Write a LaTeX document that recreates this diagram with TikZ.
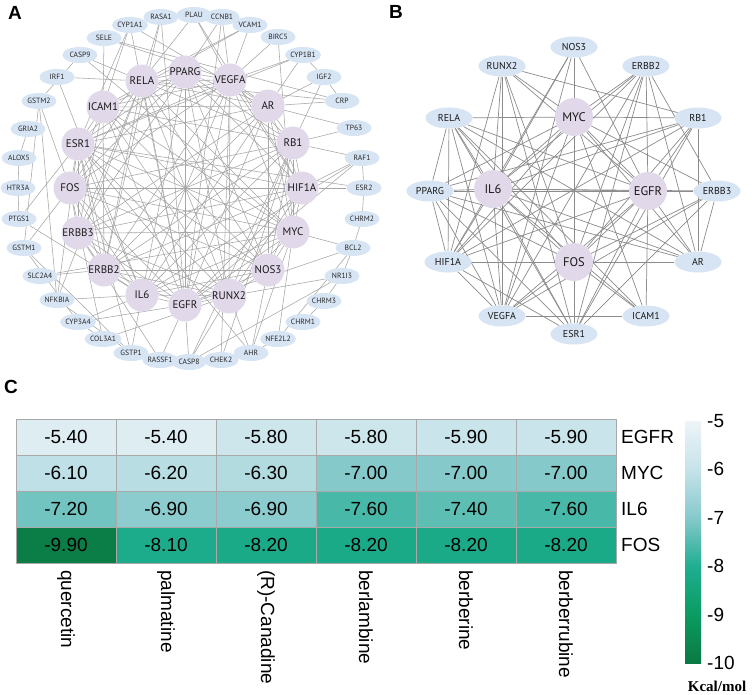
\documentclass[tikz,border=0pt]{standalone}
\usepackage{fontspec}
\setmainfont{Liberation Sans}
\newfontfamily\netfont{PT Sans}
\newfontfamily\serifbf{Liberation Serif}
\usetikzlibrary{shapes.geometric,backgrounds}
\definecolor{sblue}{HTML}{D6E4F4}
\definecolor{bigc}{HTML}{E1D9EA}
\definecolor{edgeA}{HTML}{A6A6A6}
\definecolor{edgeB}{HTML}{8C8C8C}
\definecolor{cellline}{HTML}{A9A9A9}
\definecolor{c5}{HTML}{EEF4F8}
\definecolor{c6}{HTML}{C5E3E9}
\definecolor{c7}{HTML}{86C9CB}
\definecolor{c8}{HTML}{1FAE90}
\definecolor{c9}{HTML}{0A9C62}
\definecolor{c10}{HTML}{0B7943}
\newcommand\setheat[1]{%
  \pgfmathsetmacro\hv{#1}%
  \pgfmathtruncatemacro\hs{floor(\hv)}%
  \pgfmathtruncatemacro\hp{round((\hv-\hs)*100)}%
  \pgfmathtruncatemacro\hn{\hs+1}%
  \colorlet{heat}{c\hn!\hp!c\hs}}
\tikzset{
  asmall/.style={ellipse,fill=sblue,minimum width=35pt,minimum height=16pt,inner sep=0pt,font=\netfont\fontsize{7.6}{8}\selectfont,text=black!85},
  abig/.style={circle,fill=bigc,minimum size=33pt,inner sep=0pt,font=\netfont\fontsize{11}{12}\selectfont,text=black!90},
  bsmall/.style={ellipse,fill=sblue,minimum width=47pt,minimum height=21pt,inner sep=0pt,font=\netfont\fontsize{10}{11}\selectfont,text=black!90},
  bbig/.style={circle,fill=bigc,minimum size=38pt,inner sep=0pt,font=\netfont\fontsize{12.5}{14}\selectfont,text=black!90},
  aedge/.style={draw=edgeA,line width=0.55pt},
  bedge/.style={draw=edgeB,line width=0.7pt},
  panel/.style={font=\bfseries\fontsize{19}{22}\selectfont},
  cellbox/.style={draw=cellline,line width=1pt,minimum width=100pt,minimum height=36pt,inner sep=0pt,font=\fontsize{19}{22}\selectfont},
  biglab/.style={font=\fontsize{19}{22}\selectfont,inner sep=0pt},
}
\begin{document}
\begin{tikzpicture}[x=1pt,y=-1pt]
\useasboundingbox (0,0) rectangle (754,695);
\begin{pgfonlayer}{background}
\fill[white] (0,0) rectangle (754,695);
\end{pgfonlayer}

% ---------------- Panel A ----------------
\node[panel] (pA) at (15,13) {A};
\node[abig] (a1) at (142,81) {RELA};
\node[abig] (a2) at (185,72) {PPARG};
\node[abig] (a3) at (230,80) {VEGFA};
\node[abig] (a4) at (268,106) {AR};
\node[abig] (a5) at (293,143) {RB1};
\node[abig] (a6) at (302,188) {HIF1A};
\node[abig] (a7) at (293,232) {MYC};
\node[abig] (a8) at (268,270) {NOS3};
\node[abig] (a9) at (229,296) {RUNX2};
\node[abig] (a10) at (185,305) {EGFR};
\node[abig] (a11) at (142,295) {IL6};
\node[abig] (a12) at (104,270) {ERBB2};
\node[abig] (a13) at (78,233) {ERBB3};
\node[abig] (a14) at (70,188) {FOS};
\node[abig] (a15) at (78,144) {ESR1};
\node[abig] (a16) at (103,107) {ICAM1};

\node[asmall] (aPLAU) at (194,15) {PLAU};
\node[asmall] (aRASA1) at (161,17) {RASA1};
\node[asmall] (aCYP1A1) at (130,25) {CYP1A1};
\node[asmall] (aSELE) at (104,38) {SELE};
\node[asmall] (aCASP9) at (80,55) {CASP9};
\node[asmall] (aIRF1) at (57,77) {IRF1};
\node[asmall] (aGSTM2) at (39,101) {GSTM2};
\node[asmall] (aGRIA2) at (28,129) {GRIA2};
\node[asmall] (aALOX5) at (19,158) {ALOX5};
\node[asmall] (aHTR3A) at (18,188) {HTR3A};
\node[asmall] (aPTGS1) at (19,219) {PTGS1};
\node[asmall] (aGSTM1) at (24,248) {GSTM1};
\node[asmall] (aSLC2A4) at (40,276) {SLC2A4};
\node[asmall] (aNFKBIA) at (57,300) {NFKBIA};
\node[asmall] (aCYP3A4) at (78,322) {CYP3A4};
\node[asmall] (aCOL3A1) at (103,339) {COL3A1};
\node[asmall] (aGSTP1) at (131,353) {GSTP1};
\node[asmall] (aRASSF1) at (160,360) {RASSF1};
\node[asmall] (aCASP8) at (189,362) {CASP8};
\node[asmall] (aCHEK2) at (221,360) {CHEK2};
\node[asmall] (aAHR) at (251,353) {AHR};
\node[asmall] (aNFE2L2) at (278,339) {NFE2L2};
\node[asmall] (aCHRM1) at (303,322) {CHRM1};
\node[asmall] (aCHRM3) at (324,301) {CHRM3};
\node[asmall] (aNR1I3) at (342,276) {NR1I3};
\node[asmall] (aBCL2) at (353,248) {BCL2};
\node[asmall] (aCHRM2) at (362,219) {CHRM2};
\node[asmall] (aESR2) at (364,188) {ESR2};
\node[asmall] (aRAF1) at (362,158) {RAF1};
\node[asmall] (aTP63) at (354,128) {TP63};
\node[asmall] (aCRP) at (342,101) {CRP};
\node[asmall] (aIGF2) at (324,77) {IGF2};
\node[asmall] (aCYP1B1) at (303,55) {CYP1B1};
\node[asmall] (aBIRC5) at (278,37) {BIRC5};
\node[asmall] (aVCAM1) at (250,25) {VCAM1};
\node[asmall] (aCCNB1) at (222,17) {CCNB1};

\begin{pgfonlayer}{background}
\foreach \i in {1,...,15}{%
  \pgfmathtruncatemacro\ii{\i+1}%
  \foreach \j in {\ii,...,16}{%
    \pgfmathtruncatemacro\kk{mod(\i*7+\j*3,5)}%
    \ifnum\kk>0 \draw[aedge] (a\i)--(a\j);\fi}}
\foreach \p/\q in {aPLAU/a1,aPLAU/a3,aPLAU/a6,
  aRASA1/a1,aRASA1/a10,aRASA1/a12,
  aCYP1A1/a16,aCYP1A1/a4,aCYP1A1/a10,aCYP1A1/a15,
  aSELE/a16,aSELE/aCRP,aSELE/a3,
  aCASP9/a7,aCASP9/aGSTM2,aCASP9/a1,
  aIRF1/a1,aIRF1/a11,
  aGSTM2/aGSTM1,aGSTM2/a14,aGSTM2/aNFKBIA,
  aGRIA2/aALOX5,aALOX5/aHTR3A,aHTR3A/aPTGS1,
  aPTGS1/a15,aPTGS1/a11,
  aGSTM1/a14,aGSTM1/aCYP3A4,aGSTM1/aGSTP1,
  aSLC2A4/a12,aSLC2A4/a7,
  aNFKBIA/a1,aNFKBIA/a11,aNFKBIA/a15,
  aCYP3A4/a11,aCYP3A4/a10,aCYP3A4/aCOL3A1,
  aCOL3A1/a14,aCOL3A1/a9,
  aGSTP1/a11,aGSTP1/aNFKBIA,aGSTP1/a15,
  aRASSF1/a10,aRASSF1/a13,
  aCASP8/a10,aCASP8/a9,aCASP8/a5,aCASP8/aNR1I3,
  aCHEK2/a5,aCHEK2/a3,
  aAHR/a8,aAHR/a9,aAHR/a15,aAHR/a7,
  aNFE2L2/a7,aNFE2L2/aAHR,aNFE2L2/aBCL2,
  aCHRM1/aCHRM3,aCHRM3/aNR1I3,
  aNR1I3/a9,aNR1I3/aBCL2,
  aBCL2/a7,aBCL2/aCHRM2,aBCL2/a10,
  aCHRM2/aESR2,
  aESR2/aRAF1,aESR2/a15,aESR2/a6,
  aRAF1/a5,aRAF1/a10,aRAF1/a6,aRAF1/a11,
  aTP63/a4,aTP63/a5,
  aCRP/a4,aCRP/aIGF2,aCRP/a1,
  aIGF2/a4,aIGF2/a5,aIGF2/aCYP1B1,
  aCYP1B1/a4,aCYP1B1/a3,aCYP1B1/a15,
  aBIRC5/a3,aBIRC5/a7,
  aVCAM1/a3,aVCAM1/a1,aVCAM1/a16,
  aCCNB1/a3,aCCNB1/a2,aCCNB1/a10}{\draw[aedge] (\p)--(\q);}
\end{pgfonlayer}

% ---------------- Panel B ----------------
\node[panel] (pB) at (396,12) {B};
\node[bsmall] (bNOS3) at (574,47) {NOS3};
\node[bsmall] (bRUNX2) at (502,66) {RUNX2};
\node[bsmall] (bERBB2) at (646,66) {ERBB2};
\node[bsmall] (bRELA) at (449,118) {RELA};
\node[bbig] (bMYC) at (574,117) {MYC};
\node[bsmall] (bRB1) at (698,118) {RB1};
\node[bsmall] (bPPARG) at (430,191) {PPARG};
\node[bbig] (bIL6) at (493,189) {IL6};
\node[bbig] (bEGFR) at (648,191) {EGFR};
\node[bsmall] (bERBB3) at (717,191) {ERBB3};
\node[bsmall] (bHIF1A) at (448,262) {HIF1A};
\node[bbig] (bFOS) at (574,262) {FOS};
\node[bsmall] (bAR) at (698,262) {AR};
\node[bsmall] (bVEGFA) at (502,316) {VEGFA};
\node[bsmall] (bICAM1) at (646,316) {ICAM1};
\node[bsmall] (bESR1) at (574,334) {ESR1};

\begin{pgfonlayer}{background}
\foreach \h in {bMYC,bIL6,bEGFR,bFOS}{%
  \foreach \o in {bNOS3,bRUNX2,bERBB2,bRELA,bRB1,bPPARG,bERBB3,bHIF1A,bAR,bVEGFA,bICAM1,bESR1}{%
    \draw[bedge] (\h)--(\o);}}
\foreach \p/\q in {bMYC/bIL6,bMYC/bEGFR,bMYC/bFOS,bIL6/bEGFR,bIL6/bFOS,bEGFR/bFOS,
  bRUNX2/bRB1,bRELA/bHIF1A,bRELA/bPPARG,bRB1/bAR,bPPARG/bRB1,bHIF1A/bVEGFA,bHIF1A/bESR1,
  bRELA/bVEGFA,bRELA/bESR1,bRELA/bAR,bRELA/bICAM1,bRUNX2/bVEGFA,bRUNX2/bESR1,bRUNX2/bHIF1A,
  bNOS3/bVEGFA,bNOS3/bHIF1A,bNOS3/bESR1,bERBB2/bVEGFA,bERBB2/bESR1,bERBB2/bHIF1A,bERBB2/bAR,
  bERBB2/bERBB3,bRB1/bESR1,bRB1/bHIF1A,bERBB3/bESR1,bERBB3/bVEGFA,bERBB3/bAR,bPPARG/bHIF1A,
  bPPARG/bVEGFA,bPPARG/bESR1,bPPARG/bAR,bVEGFA/bICAM1}{\draw[bedge] (\p)--(\q);}
\end{pgfonlayer}

% ---------------- Panel C ----------------
\node[panel] (pC) at (11,387) {C};
\foreach \row [count=\r] in {{5.40,5.40,5.80,5.80,5.90,5.90},{6.10,6.20,6.30,7.00,7.00,7.00},{7.20,6.90,6.90,7.60,7.40,7.60},{9.90,8.10,8.20,8.20,8.20,8.20}}{%
  \foreach \v [count=\c] in \row {%
    \setheat{\v}%
    \node[cellbox,fill=heat] (cell\r-\c) at ({16+100*\c-50},{419+36*\r-18}) {-\v};}}
\foreach \t [count=\r] in {EGFR,MYC,IL6,FOS}{%
  \node[biglab,anchor=west] (row\r) at (621,{419+36*\r-18}) {\t};}
\foreach \t [count=\c] in {quercetin,palmatine,(R)-Canadine,berlambine,berberine,berberrubine}{%
  \node[biglab,rotate=-90,anchor=west] (col\c) at ({16+100*\c-50},570) {\t};}

% colour bar
\shade[top color=c5,bottom color=c6] (685,421) rectangle (701,469.4);
\shade[top color=c6,bottom color=c7] (685,469.4) rectangle (701,517.8);
\shade[top color=c7,bottom color=c8] (685,517.8) rectangle (701,566.2);
\shade[top color=c8,bottom color=c9] (685,566.2) rectangle (701,614.6);
\shade[top color=c9,bottom color=c10] (685,614.6) rectangle (701,663);
\foreach \k in {5,...,10}{%
  \node[biglab,anchor=west] (tick\k) at (707,{421+48.4*(\k-5)}) {-\k};}
\node[inner sep=0pt,font=\serifbf\bfseries\fontsize{15}{17}\selectfont] (unit) at (717,686) {Kcal/mol};
\end{tikzpicture}
\end{document}
